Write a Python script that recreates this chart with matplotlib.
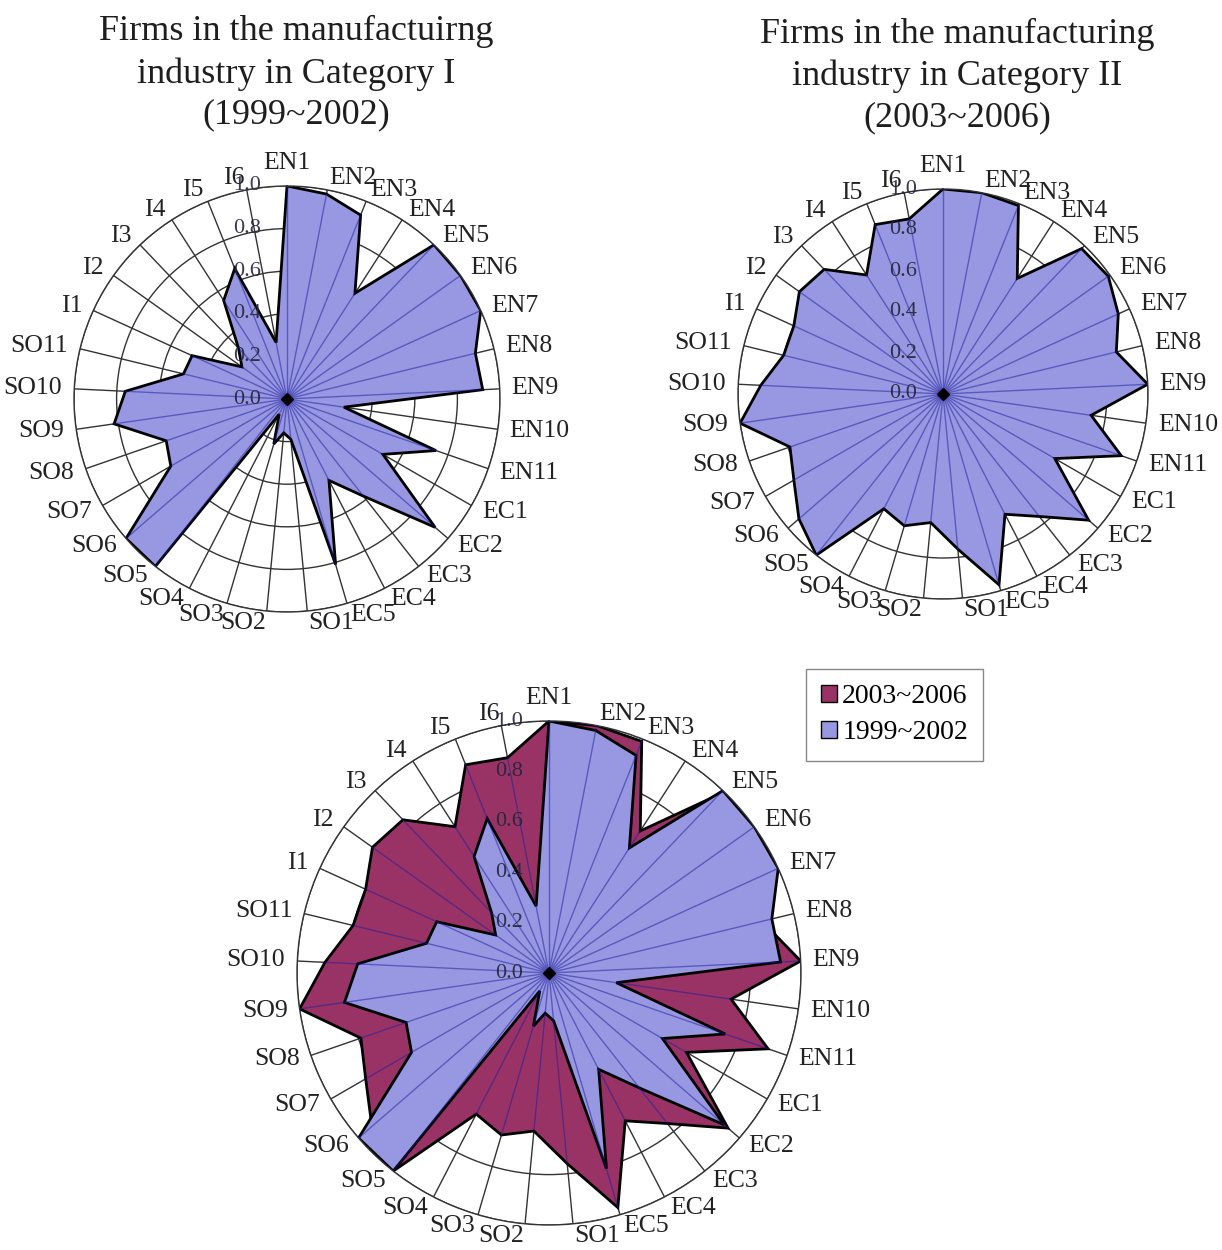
import matplotlib.pyplot as plt
import numpy as np
from matplotlib.patches import Patch
from matplotlib.transforms import offset_copy

plt.rcParams['font.family'] = ['Liberation Serif', 'DejaVu Serif']

categories = ['EN1', 'EN2', 'EN3', 'EN4', 'EN5', 'EN6', 'EN7', 'EN8', 'EN9', 'EN10', 'EN11',
              'EC1', 'EC2', 'EC3', 'EC4', 'EC5',
              'SO1', 'SO2', 'SO3', 'SO4', 'SO5', 'SO6', 'SO7', 'SO8', 'SO9', 'SO10', 'SO11',
              'I1', 'I2', 'I3', 'I4', 'I5', 'I6']

values_1999_2002 = [1.00, 0.98, 0.93, 0.59, 1.00, 1.00, 1.00, 0.91, 0.92, 0.27, 0.74,
                    0.52, 0.92, 0.58, 0.43, 0.81,
                    0.19, 0.16, 0.22, 0.08, 1.00, 1.00, 0.63, 0.60, 0.82, 0.76, 0.50,
                    0.49, 0.26, 0.33, 0.55, 0.66, 0.27]

values_2003_2006 = [1.00, 1.00, 0.99, 0.67, 0.98, 0.99, 0.94, 0.87, 1.00, 0.73, 0.92,
                    0.63, 0.94, 0.76, 0.66, 0.97,
                    0.76, 0.63, 0.67, 0.63, 1.00, 0.93, 0.84, 0.79, 1.00, 0.89, 0.80,
                    0.80, 0.86, 0.84, 0.69, 0.89, 0.87]

ring_values = [0.0, 0.2, 0.4, 0.6, 0.8, 1.0]
ring_labels = ['0.0', '0.2', '0.4', '0.6', '0.8', '1.0']

title_left = ['Firms in the manufactuirng', 'industry in Category I', '(1999~2002)']
title_right = ['Firms in the manufacturing', 'industry in Category II', '(2003~2006)']
legend_labels = ['2003~2006', '1999~2002']

COLOR_1999 = '#9898e2'
COLOR_2003 = '#993366'
GRID = '#333333'
W, H = 1222, 1250

angles = np.linspace(0, 2 * np.pi, len(categories), endpoint=False)


def radar_axes(fig, cx, cy, radius):
    # cx, cy, radius in pixels, measured from the top-left corner
    rect = [(cx - radius) / W, (H - cy - radius) / H, 2 * radius / W, 2 * radius / H]
    ax = fig.add_axes(rect, projection='polar')
    ax.set_theta_zero_location('N')
    ax.set_theta_direction(-1)
    ax.set_ylim(0, 1)
    ax.set_xticks(angles)
    ax.set_xticklabels([])
    ax.set_yticks(ring_values[1:])
    ax.set_yticklabels([])
    ax.grid(True, color=GRID, linewidth=1.0)
    ax.spines['polar'].set_color(GRID)
    ax.spines['polar'].set_linewidth(1.0)
    ax.set_axisbelow(True)

    label_r = 1 + 12 / radius
    for theta, name in zip(angles, categories):
        s = np.sin(theta)
        if abs(s) < 1e-6:
            ha, va = 'center', 'bottom'
        elif s > 0:
            ha, va = 'left', 'center'
        else:
            ha, va = 'right', 'center'
        ax.text(theta, label_r, name, ha=ha, va=va, fontsize=18.5,
                color='#222222', clip_on=False)
    return ax


def fill_series(ax, values, color):
    t = np.r_[angles, angles[0]]
    v = np.r_[values, values[0]]
    ax.fill(t, v, facecolor=color, edgecolor='black', linewidth=2.0,
            joinstyle='miter', zorder=2)


def finish(ax, fig, tops):
    # spokes show through the filled area, then the value ticks on top
    for theta, v in zip(angles, tops):
        ax.plot([theta, theta], [0, v], color='#1c1c9a', alpha=0.5,
                linewidth=1.0, zorder=3)
    ax.plot([0], [0], marker='D', markersize=6, color='black', zorder=4)
    trans = offset_copy(ax.transData, fig=fig, x=-26, y=0, units='dots')
    for r, lab in zip(ring_values, ring_labels):
        ax.text(0, r, lab, transform=trans, ha='right', va='center',
                fontsize=16, color='#24243a', alpha=0.9, zorder=5)


fig = plt.figure(figsize=(W / 100, H / 100), dpi=100)

ax1 = radar_axes(fig, 287, 399, 213)
fill_series(ax1, values_1999_2002, COLOR_1999)
finish(ax1, fig, values_1999_2002)

ax2 = radar_axes(fig, 943, 394, 205)
fill_series(ax2, values_2003_2006, COLOR_1999)
finish(ax2, fig, values_2003_2006)

ax3 = radar_axes(fig, 549, 973, 252)
fill_series(ax3, values_2003_2006, COLOR_2003)
fill_series(ax3, values_1999_2002, COLOR_1999)
finish(ax3, fig, np.maximum(values_1999_2002, values_2003_2006))

for lines, x, baselines in [(title_left, 296, [40, 83, 123]),
                            (title_right, 957, [43, 85, 126])]:
    for line, y in zip(lines, baselines):
        fig.text(x / W, 1 - y / H, line, ha='center', va='baseline',
                 fontsize=26, color='#1e1e1e')

handles = [Patch(facecolor=COLOR_2003, edgecolor='black'),
           Patch(facecolor=COLOR_1999, edgecolor='black')]
leg = fig.legend(handles, legend_labels, loc='upper left',
                 bbox_to_anchor=(806 / W, 1 - 669 / H), fontsize=20,
                 frameon=True, fancybox=False, edgecolor='#888888',
                 framealpha=1, handlelength=0.55, handleheight=0.55,
                 handletextpad=0.2, borderpad=0.55, labelspacing=0.4,
                 borderaxespad=0)
leg.get_frame().set_linewidth(1.0)

fig.savefig('out.png', dpi=100)
